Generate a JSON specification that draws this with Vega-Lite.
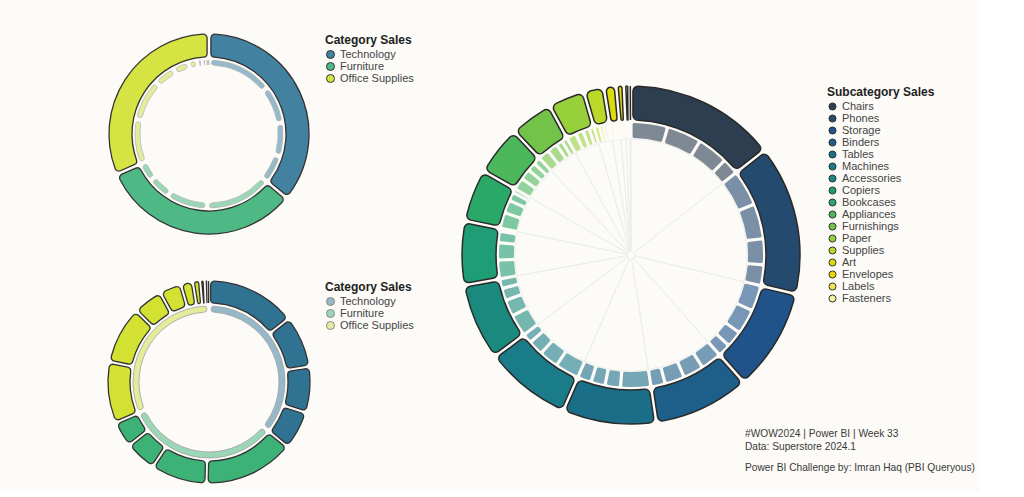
{
  "$schema": "https://vega.github.io/schema/vega-lite/v6.json",
  "background": "#fcfbf7",
  "padding": {"left": 105, "top": 31, "right": 5, "bottom": 5},
  "config": {
    "view": {"stroke": null},
    "legend": {
      "titleFont": "Liberation Sans", "titleFontSize": 12, "titleFontWeight": "bold", "titleColor": "#222222",
      "labelFont": "Liberation Sans", "labelFontSize": 11, "labelColor": "#444444",
      "symbolType": "circle", "symbolStrokeColor": "#333333", "symbolStrokeWidth": 1, "symbolOpacity": 1,
      "rowPadding": -2.1, "titlePadding": 2, "labelOffset": 4
    }
  },
  "datasets": {
    "sales": [
      {"category": "Furniture", "subcategory": "Chairs", "region": "West", "sales": 102000},
      {"category": "Furniture", "subcategory": "Chairs", "region": "East", "sales": 97000},
      {"category": "Furniture", "subcategory": "Chairs", "region": "Central", "sales": 86000},
      {"category": "Furniture", "subcategory": "Chairs", "region": "South", "sales": 46000},
      {"category": "Technology", "subcategory": "Phones", "region": "East", "sales": 100000},
      {"category": "Technology", "subcategory": "Phones", "region": "West", "sales": 98000},
      {"category": "Technology", "subcategory": "Phones", "region": "Central", "sales": 72000},
      {"category": "Technology", "subcategory": "Phones", "region": "South", "sales": 58000},
      {"category": "Office Supplies", "subcategory": "Storage", "region": "East", "sales": 72000},
      {"category": "Office Supplies", "subcategory": "Storage", "region": "West", "sales": 70000},
      {"category": "Office Supplies", "subcategory": "Storage", "region": "Central", "sales": 46000},
      {"category": "Office Supplies", "subcategory": "Storage", "region": "South", "sales": 36000},
      {"category": "Office Supplies", "subcategory": "Binders", "region": "Central", "sales": 58000},
      {"category": "Office Supplies", "subcategory": "Binders", "region": "West", "sales": 57000},
      {"category": "Office Supplies", "subcategory": "Binders", "region": "East", "sales": 55000},
      {"category": "Office Supplies", "subcategory": "Binders", "region": "South", "sales": 40000},
      {"category": "Furniture", "subcategory": "Tables", "region": "West", "sales": 84000},
      {"category": "Furniture", "subcategory": "Tables", "region": "South", "sales": 43000},
      {"category": "Furniture", "subcategory": "Tables", "region": "Central", "sales": 39500},
      {"category": "Furniture", "subcategory": "Tables", "region": "East", "sales": 38500},
      {"category": "Technology", "subcategory": "Machines", "region": "East", "sales": 67000},
      {"category": "Technology", "subcategory": "Machines", "region": "South", "sales": 54000},
      {"category": "Technology", "subcategory": "Machines", "region": "West", "sales": 42000},
      {"category": "Technology", "subcategory": "Machines", "region": "Central", "sales": 27000},
      {"category": "Technology", "subcategory": "Accessories", "region": "West", "sales": 61000},
      {"category": "Technology", "subcategory": "Accessories", "region": "East", "sales": 46000},
      {"category": "Technology", "subcategory": "Accessories", "region": "Central", "sales": 34000},
      {"category": "Technology", "subcategory": "Accessories", "region": "South", "sales": 27000},
      {"category": "Technology", "subcategory": "Copiers", "region": "East", "sales": 52000},
      {"category": "Technology", "subcategory": "Copiers", "region": "West", "sales": 48000},
      {"category": "Technology", "subcategory": "Copiers", "region": "Central", "sales": 32000},
      {"category": "Technology", "subcategory": "Copiers", "region": "South", "sales": 8000},
      {"category": "Furniture", "subcategory": "Bookcases", "region": "East", "sales": 44000},
      {"category": "Furniture", "subcategory": "Bookcases", "region": "West", "sales": 36000},
      {"category": "Furniture", "subcategory": "Bookcases", "region": "Central", "sales": 24000},
      {"category": "Furniture", "subcategory": "Bookcases", "region": "South", "sales": 11000},
      {"category": "Office Supplies", "subcategory": "Appliances", "region": "East", "sales": 34000},
      {"category": "Office Supplies", "subcategory": "Appliances", "region": "West", "sales": 30000},
      {"category": "Office Supplies", "subcategory": "Appliances", "region": "Central", "sales": 24000},
      {"category": "Office Supplies", "subcategory": "Appliances", "region": "South", "sales": 20000},
      {"category": "Furniture", "subcategory": "Furnishings", "region": "West", "sales": 31000},
      {"category": "Furniture", "subcategory": "Furnishings", "region": "East", "sales": 29000},
      {"category": "Furniture", "subcategory": "Furnishings", "region": "South", "sales": 18000},
      {"category": "Furniture", "subcategory": "Furnishings", "region": "Central", "sales": 16000},
      {"category": "Office Supplies", "subcategory": "Paper", "region": "West", "sales": 27000},
      {"category": "Office Supplies", "subcategory": "Paper", "region": "East", "sales": 21000},
      {"category": "Office Supplies", "subcategory": "Paper", "region": "Central", "sales": 18000},
      {"category": "Office Supplies", "subcategory": "Paper", "region": "South", "sales": 14000},
      {"category": "Office Supplies", "subcategory": "Supplies", "region": "West", "sales": 15000},
      {"category": "Office Supplies", "subcategory": "Supplies", "region": "East", "sales": 11000},
      {"category": "Office Supplies", "subcategory": "Supplies", "region": "South", "sales": 10000},
      {"category": "Office Supplies", "subcategory": "Supplies", "region": "Central", "sales": 8000},
      {"category": "Office Supplies", "subcategory": "Art", "region": "West", "sales": 10000},
      {"category": "Office Supplies", "subcategory": "Art", "region": "East", "sales": 7500},
      {"category": "Office Supplies", "subcategory": "Art", "region": "Central", "sales": 5500},
      {"category": "Office Supplies", "subcategory": "Art", "region": "South", "sales": 4000},
      {"category": "Office Supplies", "subcategory": "Envelopes", "region": "West", "sales": 5000},
      {"category": "Office Supplies", "subcategory": "Envelopes", "region": "Central", "sales": 4600},
      {"category": "Office Supplies", "subcategory": "Envelopes", "region": "East", "sales": 4100},
      {"category": "Office Supplies", "subcategory": "Envelopes", "region": "South", "sales": 2800},
      {"category": "Office Supplies", "subcategory": "Labels", "region": "West", "sales": 5100},
      {"category": "Office Supplies", "subcategory": "Labels", "region": "East", "sales": 2700},
      {"category": "Office Supplies", "subcategory": "Labels", "region": "Central", "sales": 2500},
      {"category": "Office Supplies", "subcategory": "Labels", "region": "South", "sales": 2200},
      {"category": "Office Supplies", "subcategory": "Fasteners", "region": "West", "sales": 900},
      {"category": "Office Supplies", "subcategory": "Fasteners", "region": "East", "sales": 850},
      {"category": "Office Supplies", "subcategory": "Fasteners", "region": "Central", "sales": 750},
      {"category": "Office Supplies", "subcategory": "Fasteners", "region": "South", "sales": 500}
    ]
  },
  "bounds": "flush",
  "spacing": 354,
  "hconcat": [
    {
      "bounds": "flush",
      "spacing": 44,
      "vconcat": [
        {
          "width": 204, "height": 204,
          "data": {"name": "sales"},
          "layer": [
            {
              "transform": [{"aggregate": [{"op": "sum", "field": "sales", "as": "total"}], "groupby": ["category"]}],
              "mark": {"type": "arc", "radius": 100, "radius2": 77, "padAngle": 0.03, "cornerRadius": 4, "stroke": "#333333", "strokeWidth": 1.3},
              "encoding": {
                "theta": {"field": "total", "type": "quantitative"},
                "order": {"field": "total", "sort": "descending"},
                "color": {
                  "field": "category", "type": "nominal",
                  "scale": {"domain": ["Technology", "Furniture", "Office Supplies"], "range": ["#42819f", "#4fb985", "#d5e343"]},
                  "legend": {"title": "Category Sales", "orient": "none", "legendX": 218, "legendY": 3, "symbolSize": 64}
                }
              }
            },
            {
              "transform": [
                {"aggregate": [{"op": "sum", "field": "sales", "as": "total"}], "groupby": ["category", "subcategory"]},
                {"joinaggregate": [{"op": "sum", "field": "total", "as": "catTotal"}], "groupby": ["category"]},
                {"window": [{"op": "row_number", "as": "rank"}], "sort": [{"field": "catTotal", "order": "descending"}, {"field": "total", "order": "descending"}]}
              ],
              "mark": {"type": "arc", "radius": 74, "radius2": 69, "padAngle": 0.045, "cornerRadius": 3, "stroke": "#b8b8b8", "strokeWidth": 0.8},
              "encoding": {
                "theta": {"field": "total", "type": "quantitative"},
                "order": {"field": "rank", "sort": "ascending"},
                "color": {
                  "field": "category", "type": "nominal",
                  "scale": {"domain": ["Technology", "Furniture", "Office Supplies"], "range": ["#96b9c9", "#9bd6b6", "#e4ec9c"]},
                  "legend": null
                }
              }
            }
          ],
          "resolve": {"scale": {"color": "independent"}}
        },
        {
          "width": 204, "height": 204,
          "data": {"name": "sales"},
          "layer": [
            {
              "transform": [
                {"aggregate": [{"op": "sum", "field": "sales", "as": "total"}], "groupby": ["category", "subcategory"]},
                {"joinaggregate": [{"op": "sum", "field": "total", "as": "catTotal"}], "groupby": ["category"]},
                {"window": [{"op": "row_number", "as": "rank"}], "sort": [{"field": "catTotal", "order": "descending"}, {"field": "total", "order": "descending"}]}
              ],
              "mark": {"type": "arc", "radius": 101, "radius2": 79, "padAngle": 0.025, "cornerRadius": 4, "stroke": "#333333", "strokeWidth": 1.3},
              "encoding": {
                "theta": {"field": "total", "type": "quantitative"},
                "order": {"field": "rank", "sort": "ascending"},
                "color": {
                  "field": "category", "type": "nominal",
                  "scale": {"domain": ["Technology", "Furniture", "Office Supplies"], "range": ["#2f7292", "#3db277", "#d3e133"]},
                  "legend": null
                }
              }
            },
            {
              "transform": [{"aggregate": [{"op": "sum", "field": "sales", "as": "total"}], "groupby": ["category"]}],
              "mark": {"type": "arc", "radius": 76, "radius2": 70, "padAngle": 0.04, "cornerRadius": 3, "stroke": "#a0a0a0", "strokeWidth": 0.8},
              "encoding": {
                "theta": {"field": "total", "type": "quantitative"},
                "order": {"field": "total", "sort": "descending"},
                "color": {
                  "field": "category", "type": "nominal",
                  "scale": {"domain": ["Technology", "Furniture", "Office Supplies"], "range": ["#96b9c9", "#9bd6b6", "#e4ec9c"]},
                  "legend": {"title": "Category Sales", "orient": "none", "legendX": 218, "legendY": 2, "symbolSize": 64, "symbolStrokeColor": "#888888"}
                }
              }
            }
          ],
          "resolve": {"scale": {"color": "independent"}}
        }
      ]
    },
    {
      "width": 340, "height": 446,
      "data": {"name": "sales"},
      "title": {
        "text": ["#WOW2024 | Power BI | Week 33", "Data: Superstore 2024.1"],
        "subtitle": "Power BI Challenge by: Imran Haq (PBI Queryous)",
        "orient": "bottom", "anchor": "start", "frame": "group",
        "dx": 284, "dy": -49, "offset": 0,
        "font": "Liberation Sans", "fontSize": 10.2, "fontWeight": "normal", "color": "#3a3a3a", "lineHeight": 13,
        "subtitleFont": "Liberation Sans", "subtitleFontSize": 10.2, "subtitleColor": "#3a3a3a", "subtitlePadding": 11
      },
      "layer": [
        {
          "transform": [{"aggregate": [{"op": "sum", "field": "sales", "as": "total"}], "groupby": ["subcategory"]}],
          "mark": {"type": "arc", "radius": 116, "radius2": 4, "color": "#fcfbf7", "fillOpacity": 0, "stroke": "#eeeeea", "strokeWidth": 1},
          "encoding": {
            "theta": {"field": "total", "type": "quantitative"},
            "order": {"field": "total", "sort": "descending"}
          }
        },
        {
          "transform": [{"aggregate": [{"op": "sum", "field": "sales", "as": "total"}], "groupby": ["subcategory"]}],
          "mark": {"type": "arc", "radius": 169, "radius2": 135, "padAngle": 0.018, "cornerRadius": 5, "stroke": "#2a2a2a", "strokeWidth": 1.5},
          "encoding": {
            "theta": {"field": "total", "type": "quantitative"},
            "order": {"field": "total", "sort": "descending"},
            "color": {
              "field": "subcategory", "type": "nominal",
              "scale": {
                "domain": ["Chairs", "Phones", "Storage", "Binders", "Tables", "Machines", "Accessories", "Copiers", "Bookcases", "Appliances", "Furnishings", "Paper", "Supplies", "Art", "Envelopes", "Labels", "Fasteners"],
                "range": ["#2c3e50", "#254a6f", "#1f5389", "#1d5f89", "#1b6e88", "#1a7c89", "#1b8a7e", "#1f9d74", "#2aa868", "#4db75c", "#73c34b", "#98d03c", "#bad928", "#dcdc0d", "#ecd70a", "#f2e24f", "#f6efa0"]
              },
              "legend": {"title": "Subcategory Sales", "orient": "none", "legendX": 720, "legendY": 55, "symbolSize": 50, "rowPadding": -2.5}
            }
          }
        },
        {
          "transform": [
            {"joinaggregate": [{"op": "sum", "field": "sales", "as": "subTotal"}], "groupby": ["subcategory"]},
            {"window": [{"op": "row_number", "as": "rank"}], "sort": [{"field": "subTotal", "order": "descending"}, {"field": "sales", "order": "descending"}]}
          ],
          "mark": {"type": "arc", "radius": 132, "radius2": 117, "padAngle": 0.018, "cornerRadius": 1.5, "fillOpacity": 0.6},
          "encoding": {
            "theta": {"field": "sales", "type": "quantitative"},
            "order": {"field": "rank", "sort": "ascending"},
            "color": {
              "field": "subcategory", "type": "nominal",
              "legend": {"title": "Subcategory Sales", "orient": "none", "legendX": 720, "legendY": 55, "symbolSize": 50, "rowPadding": -2.5}
            }
          }
        }
      ]
    }
  ]
}
